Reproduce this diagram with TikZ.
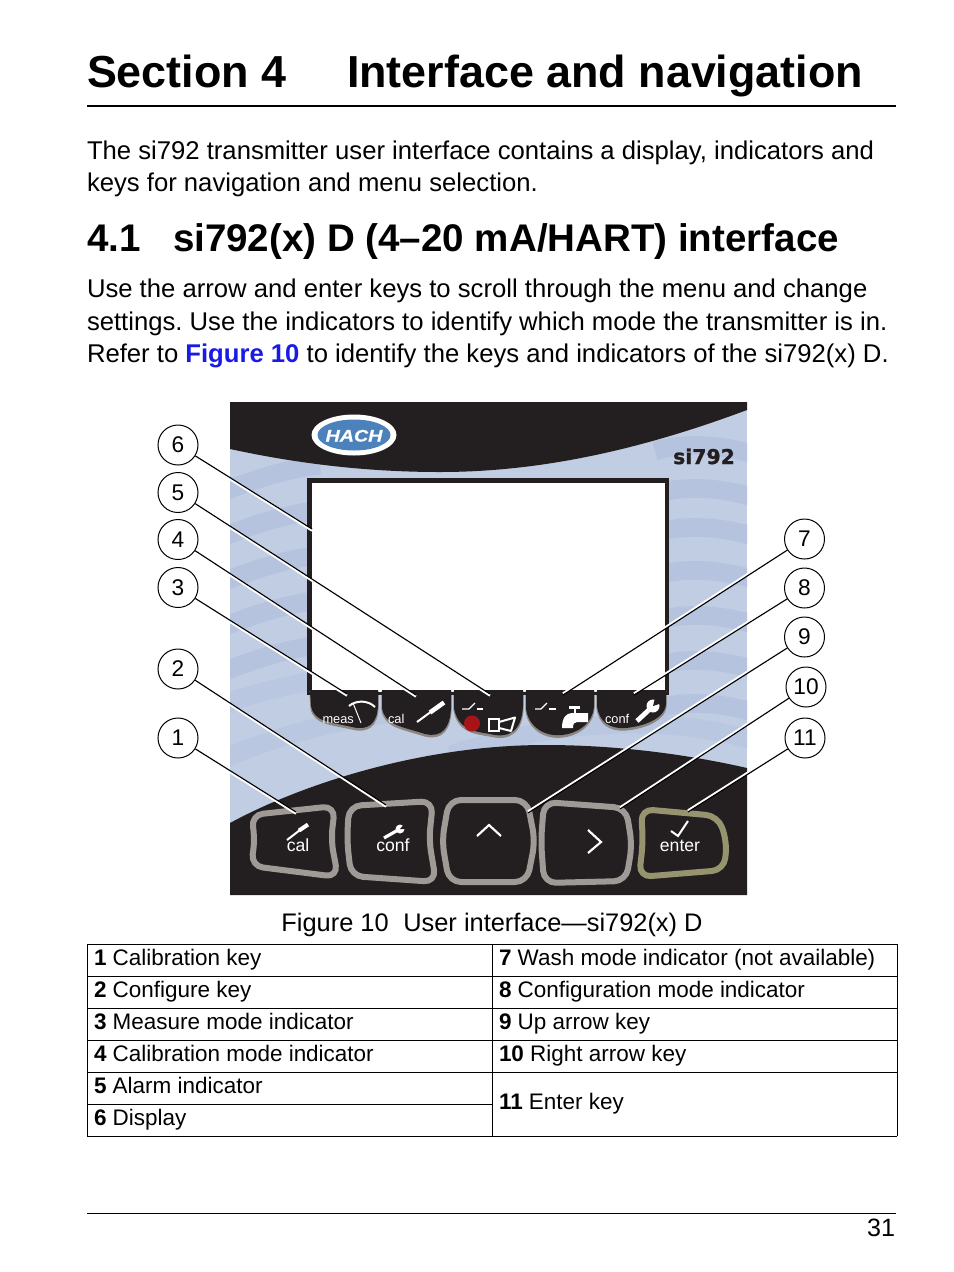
\documentclass[tikz,border=0pt]{standalone}
\usepackage{fontspec}
\setmainfont{Liberation Sans}
\newfontfamily\widebold[BoldFeatures={FakeBold=1.2}]{DejaVu Sans}
\newfontfamily\hachfont[BoldItalicFeatures={FakeStretch=1.18,FakeBold=0.6}]{Liberation Sans}
\definecolor{panelblue}{HTML}{C1CDE3}
\definecolor{waveblue}{HTML}{B6C3DE}
\definecolor{wavesoft}{HTML}{BAC7E0}
\definecolor{paneldark}{HTML}{231F20}
\definecolor{keygray}{HTML}{A09A96}
\definecolor{tabgray}{HTML}{8C8682}
\definecolor{entergreen}{HTML}{96946E}
\definecolor{hachblue}{HTML}{4C82BB}
\definecolor{alarmred}{HTML}{A6141A}
\definecolor{linkblue}{HTML}{1A1AE6}
\newcommand\fs[1]{\fontsize{#1}{#1}\selectfont\frenchspacing}
\newcommand\tabshape[1]{\fill[tabgray,draw=tabgray,line width=0.9pt,shift={(0,2)}] #1; \fill[paneldark] #1;}
\tikzset{
  txt/.style={anchor=base west,inner sep=0,outer sep=0,align=left},
  ctxt/.style={anchor=base,inner sep=0,outer sep=0},
  body/.style={txt,font=\fs{19.25}},
  cell/.style={txt,font=\fs{16.85}},
  callout/.style={circle,draw=black,fill=white,line width=0.75pt,minimum size=30pt,inner sep=0,font=\fs{17}},
  leader/.style={draw=black,line width=0.85pt},
  halo/.style={draw=white,line width=1.7pt},
  keyshape/.style={draw=keygray,line width=4.5pt,rounded corners=9pt,line join=round},
  wave/.style={waveblue,line width=14pt},
  softwave/.style={wavesoft,line width=14pt},
  icon/.style={white,line width=1.5pt},
  rule/.style={black,line width=0.75pt},
}
\begin{document}
\begin{tikzpicture}[x=0.75pt,y=-0.75pt]
\useasboundingbox (0,0) rectangle (954,1272);
\fill[white] (0,0) rectangle (954,1272);

% heading text
\node[txt,font=\fs{33.65}\bfseries] (t1) at (87,87) {Section 4};
\node[txt,font=\fs{33.65}\bfseries] (t2) at (347,87) {Interface and navigation};
\draw[black,line width=1.5pt] (87,106) -- (896,106);
\node[body] (p1) at (87,159) {The si792 transmitter user interface contains a display, indicators and};
\node[body] (p2) at (87,191) {keys for navigation and menu selection.};
\node[txt,font=\fs{28.9}\bfseries] (h1) at (87,251) {4.1};
\node[txt,font=\fs{28.9}\bfseries] (h2) at (173,251) {si792(x) D (4–20 mA/HART) interface};
\node[body] (p3) at (87,297) {Use the arrow and enter keys to scroll through the menu and change};
\node[body] (p4) at (87,330) {settings. Use the indicators to identify which mode the transmitter is in.};
\node[body] (p5) at (87,362) {Refer to {\bfseries\color{linkblue}Figure 10} to identify the keys and indicators of the si792(x) D.};

% panel
\begin{scope}
\clip (230,402) rectangle (747,895);
\fill[panelblue] (230,402) rectangle (747,895);
\foreach \y in {465,510,555,600,645}{
  \draw[wave] (220,\y+28) .. controls (250,\y+16) and (285,\y+4) .. (320,\y);
}
\foreach \y in {445,488,527,570,615,660,703}{
  \draw[wave] (655,\y+6) .. controls (685,\y-3) and (720,\y-1) .. (760,\y+11);
}
\draw[softwave] (220,705) .. controls (250,695) and (285,685) .. (320,680);
\draw[softwave] (220,760) .. controls (280,735) and (340,718) .. (420,710);
\draw[softwave] (450,755) .. controls (550,722) and (660,712) .. (760,742);
\fill[paneldark] (230,402) -- (747,402) -- (747,410) .. controls (640,450) and (540,472) .. (440,472) .. controls (360,472) and (290,462) .. (230,449) -- cycle;
\fill[paneldark] (230,823) .. controls (300,785) and (420,745) .. (545,745) .. controls (620,745) and (690,755) .. (747,768) -- (747,895) -- (230,895) -- cycle;
\end{scope}

% logo and model
\fill[white] (354,435) ellipse (42.5 and 20.5);
\fill[hachblue] (354,435) ellipse (36.5 and 15.5);
\node[ctxt,white,font=\hachfont\fs{12.5}\bfseries\itshape] (hach) at (354,441.5) {HACH};
\node[ctxt,paneldark,font=\widebold\fs{15.3}\bfseries] (model) at (704,464) {si792};

% display
\fill[paneldark] (307,478) rectangle (669,694);
\fill[white] (312,483) rectangle (665,692);

% indicator tabs
\tabshape{(310,690) -- (311,706) .. controls (314,722) and (330,722) .. (352,727) .. controls (368,731) and (377,724) .. (378,706) -- (378,690) -- cycle}
\tabshape{(382,690) -- (382,708) .. controls (385,725) and (400,726) .. (425,734) .. controls (442,738) and (450,728) .. (451,708) -- (451,690) -- cycle}
\tabshape{(454,690) -- (454,708) .. controls (458,728) and (470,731) .. (490,734) .. controls (510,739) and (522,730) .. (523,706) -- (523,690) -- cycle}
\tabshape{(526,690) -- (526,708) .. controls (528,727) and (545,737) .. (562,735) .. controls (575,734) and (593,725) .. (594,706) -- (594,690) -- cycle}
\tabshape{(597,690) -- (597,706) .. controls (599,722) and (610,729) .. (625,728) .. controls (640,727) and (665,720) .. (666,704) -- (666,690) -- cycle}
\fill[paneldark] (307,692) rectangle (669,695);

% indicator icons
\node[txt,white,font=\fs{9.6}] (m1) at (322.5,723) {meas};
\draw[icon,line width=0.75pt] (353,703) -- (361,723);
\draw[icon] (349,706) .. controls (356,700) and (368,700) .. (375,707);
\node[txt,white,font=\fs{9.6}] (m2) at (388,723) {cal};
\draw[icon,line width=1.5pt] (417,722) -- (432,711);
\draw[icon,line width=3.4pt] (430,712.5) -- (444,702.5);
\draw[icon,line width=1pt] (462,709) -- (469,709) -- (475,703);
\draw[icon,line width=1pt] (477,709) -- (483,709);
\fill[alarmred] (472,723.5) circle (8);
\draw[icon] (488.5,718.5) rectangle (499,731);
\draw[icon,line join=round] (499,722) -- (515,717.5) -- (511,731) -- (499,728);
\draw[icon,line width=1pt] (535,709) -- (541,709) -- (547,703);
\draw[icon,line width=1pt] (549,709) -- (556,709);
\fill[white] (569,706) rectangle (580,708.5);
\fill[white] (573.5,707) rectangle (576,713);
\fill[white] (588,713) -- (588,722) -- (577,722) .. controls (574,722) and (573,724) .. (573,728) -- (562,728) .. controls (562,718) and (566,713) .. (572,713) -- cycle;
\node[txt,white,font=\fs{9.6}] (m3) at (605,723) {conf};
\draw[icon,line width=3.6pt] (637,721) -- (651,708);
\fill[white] (653,706) circle (6.5);
\fill[paneldark] (653,706) -- (655,698) -- (662,703) -- cycle;

% keys
\draw[keyshape] (251,815) -- (335,806) -- (331,840) -- (338,877) -- (251,866) -- (255,838) -- cycle;
\draw[keyshape] (349,806) -- (433,801) -- (429,840) -- (436,882) -- (351,876) -- (347,840) -- cycle;
\draw[keyshape] (449,800) -- (527,800) -- (535,841) -- (527,882) -- (449,882) -- (442,841) -- cycle;
\draw[keyshape] (544,802) -- (626,808) -- (632,845) -- (626,881) -- (544,883) -- (541,841) -- cycle;
\draw[keyshape,draw=entergreen] (641,809) -- (718,816) -- (727,842) -- (724,870) -- (639,877) -- (643,842) -- cycle;

\draw[icon] (287,840) -- (300,830);
\draw[icon,line width=3pt] (299,830.5) -- (308,824.5);
\node[ctxt,white,font=\fs{13.2}] (k1) at (298,851) {cal};
\draw[icon,line width=2.4pt] (384,838) -- (398,830);
\fill[white] (400,829) circle (4.5);
\fill[paneldark] (400,829) -- (405,823) -- (408,829) -- cycle;
\node[ctxt,white,font=\fs{13.2}] (k2) at (393,851) {conf};
\draw[icon,line width=1.6pt] (477,836) -- (489,825) -- (501,836);
\draw[icon,line width=1.6pt] (588,830) -- (601,842) -- (588,853);
\draw[icon] (671,831) -- (678,836) -- (688,821);
\node[ctxt,white,font=\fs{13.2}] (k3) at (680,851) {enter};

% leader ends and callout centres
\coordinate (e1) at (296,812);
\coordinate (e2) at (386,805);
\coordinate (e3) at (347,694);
\coordinate (e4) at (416,695);
\coordinate (e5) at (490,694);
\coordinate (e6) at (312,529);
\coordinate (e7) at (563,695);
\coordinate (e8) at (634,695);
\coordinate (e9) at (528,813);
\coordinate (e10) at (620,809);
\coordinate (e11) at (688,812);
\coordinate (p1) at (178,738);
\coordinate (p2) at (178,669);
\coordinate (p3) at (178,587.5);
\coordinate (p4) at (178,539.5);
\coordinate (p5) at (178,492.5);
\coordinate (p6) at (178,445);
\coordinate (p7) at (804.5,539);
\coordinate (p8) at (804.5,588);
\coordinate (p9) at (804.5,637);
\coordinate (p10) at (806,687);
\coordinate (p11) at (805,738);
\foreach \n in {1,...,6}{ \draw[halo] ([yshift=-1.2pt]p\n) -- ([yshift=-1.2pt]e\n); }
\foreach \n in {7,...,11}{ \draw[halo] ([yshift=1.2pt]p\n) -- ([yshift=1.2pt]e\n); }

% callouts
\node[callout] (c1) at (p1) {1};
\node[callout] (c2) at (p2) {2};
\node[callout] (c3) at (p3) {3};
\node[callout] (c4) at (p4) {4};
\node[callout] (c5) at (p5) {5};
\node[callout] (c6) at (p6) {6};
\node[callout] (c7) at (p7) {7};
\node[callout] (c8) at (p8) {8};
\node[callout] (c9) at (p9) {9};
\node[callout] (c10) at (p10) {10};
\node[callout] (c11) at (p11) {11};
\foreach \n in {1,...,11}{ \draw[leader] (c\n) -- (e\n); }

% caption
\node[ctxt,font=\fs{19.05}] (cap) at (492,931) {Figure 10\hspace{0.3em} User interface—si792(x) D};

% table
\draw[black,line width=0.5pt] (87,944) -- (897,944);
\draw[rule] (87,944) -- (87,1136);
\draw[rule] (492,944) -- (492,1136);
\draw[rule] (897,944) -- (897,1136);
\foreach \y in {976,1008,1040,1072}{ \draw[rule] (87,\y) -- (897,\y); }
\draw[rule] (87,1104) -- (492,1104);
\draw[rule] (87,1136) -- (897,1136);
\node[cell] (l1) at (94,965) {\bfseries 1 \mdseries Calibration key};
\node[cell] (l2) at (94,997) {\bfseries 2 \mdseries Configure key};
\node[cell] (l3) at (94,1029) {\bfseries 3 \mdseries Measure mode indicator};
\node[cell] (l4) at (94,1061) {\bfseries 4 \mdseries Calibration mode indicator};
\node[cell] (l5) at (94,1093) {\bfseries 5 \mdseries Alarm indicator};
\node[cell] (l6) at (94,1125) {\bfseries 6 \mdseries Display};
\node[cell] (r7) at (499,965) {\bfseries 7 \mdseries Wash mode indicator (not available)};
\node[cell] (r8) at (499,997) {\bfseries 8 \mdseries Configuration mode indicator};
\node[cell] (r9) at (499,1029) {\bfseries 9 \mdseries Up arrow key};
\node[cell] (r10) at (499,1061) {\bfseries 10 \mdseries Right arrow key};
\node[cell] (r11) at (499,1109) {\bfseries 11 \mdseries Enter key};

% footer
\draw[black,line width=0.5pt] (87,1213) -- (896,1213);
\node[ctxt,anchor=base east,font=\fs{18.8}] (pg) at (895,1236) {31};
\end{tikzpicture}
\end{document}
